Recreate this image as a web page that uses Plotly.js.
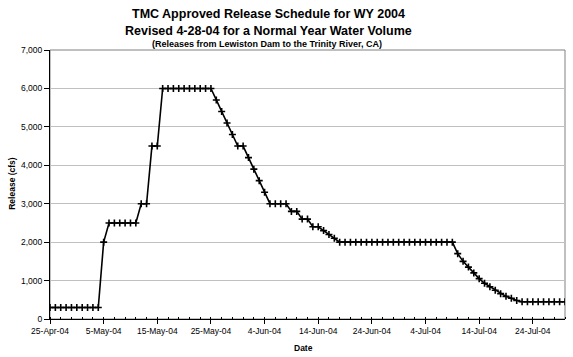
<!DOCTYPE html>
<html>
<head>
<meta charset="utf-8">
<script src="https://cdn.plot.ly/plotly-3.0.1.min.js"></script>
<style>html,body{margin:0;padding:0;background:#fff;}#chart{width:573px;height:357px;}</style>
</head>
<body>
<div id="chart"></div>
<script>
// Daily release schedule starting 25-Apr-2004 (cfs)
const startDate = '2004-04-25';
const releases = [
  300, 300, 300, 300, 300, 300, 300, 300, 300, 300,      // Apr 25 - May 4
  2000,                                                  // May 5
  2500, 2500, 2500, 2500, 2500, 2500,                    // May 6 - 11
  3000, 3000,                                            // May 12 - 13
  4500, 4500,                                            // May 14 - 15
  6000, 6000, 6000, 6000, 6000, 6000, 6000, 6000, 6000, 6000, // May 16 - 25
  5700, 5400, 5100, 4800, 4500, 4500,                    // May 26 - 31
  4200, 3900, 3600, 3300, 3000, 3000, 3000, 3000,        // Jun 1 - 8
  2800, 2800, 2600, 2600, 2400, 2400, 2300, 2200, 2100,  // Jun 9 - 17
  2000, 2000, 2000, 2000, 2000, 2000, 2000, 2000, 2000, 2000, 2000,
  2000, 2000, 2000, 2000, 2000, 2000, 2000, 2000, 2000, 2000, 2000, // Jun 18 - Jul 9
  1700, 1500, 1350, 1200, 1050, 930, 840, 750, 660, 590, 540, 480, // Jul 10 - 21
  450, 450, 450, 450, 450, 450, 450, 450, 450            // Jul 22 - 30
];
const titleLines = [
  'TMC Approved Release Schedule for WY 2004',
  'Revised 4-28-04 for a Normal Year Water Volume',
  '(Releases from Lewiston Dam to the Trinity River, CA)'
];
const xTitle = 'Date';
const yTitle = 'Release (cfs)';

function dayString(offset) {
  const d = new Date(startDate + 'T00:00:00Z');
  d.setUTCDate(d.getUTCDate() + offset);
  return d.toISOString().slice(0, 10);
}
const dates = releases.map((_, i) => dayString(i));

const FONT = 'Liberation Sans, Arial, sans-serif';

const trace = {
  x: dates, y: releases, type: 'scatter', mode: 'lines+markers',
  line: {color: '#000', width: 1.6},
  marker: {symbol: 'cross-thin', size: 5, color: '#000', line: {color: '#000', width: 1.6}},
  hoverinfo: 'x+y'
};

const layout = {
  width: 573, height: 357,
  margin: {l: 50, r: 8, t: 50, b: 38},
  paper_bgcolor: '#fff', plot_bgcolor: '#fff',
  showlegend: false,
  font: {family: FONT, color: '#000', size: 8},
  xaxis: {
    type: 'date',
    range: ['2004-04-25', '2004-07-30'],
    tick0: '2004-04-25', dtick: 10 * 86400000,
    tickformat: '%-d-%b-%y',
    ticks: 'outside', ticklen: 4, tickwidth: 1, tickcolor: '#000',
    showline: true, linecolor: '#000', linewidth: 1,
    showgrid: false, zeroline: false,
    tickfont: {family: FONT, size: 8.5, color: '#000'},
    minor: {dtick: 2 * 86400000, tick0: '2004-04-25', ticks: 'inside', ticklen: 2, tickcolor: '#000', showgrid: false},
    fixedrange: true
  },
  yaxis: {
    range: [0, 7000], dtick: 1000, tickformat: ',d',
    ticks: 'outside', ticklen: 5, tickwidth: 1, tickcolor: '#000',
    showline: true, linecolor: '#000', linewidth: 1,
    showgrid: true, gridcolor: '#c0c0c0', gridwidth: 1,
    zeroline: false,
    tickfont: {family: FONT, size: 8.5, color: '#000'},
    fixedrange: true
  },
  shapes: [
    {type: 'rect', xref: 'paper', yref: 'paper', x0: 0, x1: 1, y0: 0, y1: 1,
     line: {color: '#808080', width: 1}, layer: 'below'}
  ],
  annotations: [
    {text: '<b>' + titleLines[0] + '</b>', xref: 'paper', yref: 'paper', x: 0.425, y: 1.134,
     xanchor: 'center', yanchor: 'middle', showarrow: false, font: {family: FONT, size: 12.5}},
    {text: '<b>' + titleLines[1] + '</b>', xref: 'paper', yref: 'paper', x: 0.425, y: 1.071,
     xanchor: 'center', yanchor: 'middle', showarrow: false, font: {family: FONT, size: 12.5}},
    {text: '<b>' + titleLines[2] + '</b>', xref: 'paper', yref: 'paper', x: 0.421, y: 1.022,
     xanchor: 'center', yanchor: 'middle', showarrow: false, font: {family: FONT, size: 9}},
    {text: '<b>' + yTitle + '</b>', xref: 'paper', yref: 'paper', x: -0.074, y: 0.506,
     textangle: -90, xanchor: 'center', yanchor: 'middle', showarrow: false, font: {family: FONT, size: 8.5}},
    {text: '<b>' + xTitle + '</b>', xref: 'paper', yref: 'paper', x: 0.493, y: -0.108,
     xanchor: 'center', yanchor: 'middle', showarrow: false, font: {family: FONT, size: 8.5}}
  ]
};

Plotly.newPlot('chart', [trace], layout, {displayModeBar: false, staticPlot: true});
</script>
</body>
</html>
